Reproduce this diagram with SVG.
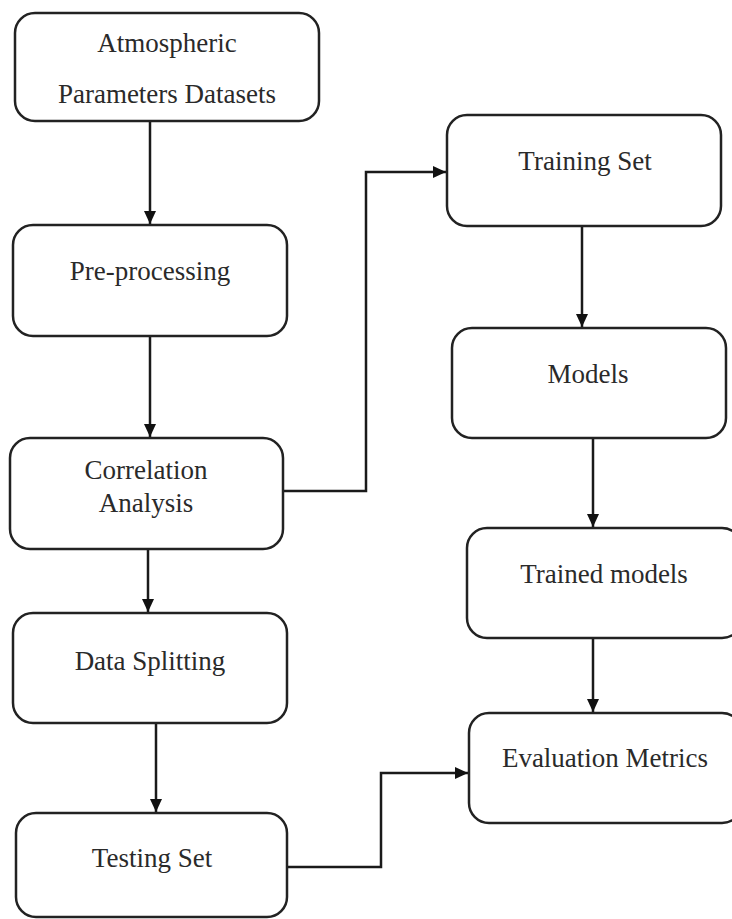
<svg xmlns="http://www.w3.org/2000/svg" width="732" height="919" viewBox="0 0 732 919">
<style>
.box{fill:#fff;stroke:#222;stroke-width:2.5}
.lbl{font-family:"Liberation Serif","Times New Roman",serif;font-size:27px;fill:#2a2a2a;text-anchor:middle}
.edge{fill:none;stroke:#1a1a1a;stroke-width:2.5}
</style>
<defs>
<marker id="ah" markerUnits="userSpaceOnUse" markerWidth="14" markerHeight="12" refX="13" refY="6" orient="auto">
<path d="M0,0 L13,6 L0,12 z" fill="#111"/>
</marker>
</defs>
<rect width="732" height="919" fill="#fff"/>
<g id="connectors">
<path class="edge" d="M150,121 V224" marker-end="url(#ah)"/>
<path class="edge" d="M150,336 V437" marker-end="url(#ah)"/>
<path class="edge" d="M148,549 V612" marker-end="url(#ah)"/>
<path class="edge" d="M156,723 V812" marker-end="url(#ah)"/>
<path class="edge" d="M283,491 H366 V172 H446" marker-end="url(#ah)"/>
<path class="edge" d="M582,226 V327" marker-end="url(#ah)"/>
<path class="edge" d="M593,438 V527" marker-end="url(#ah)"/>
<path class="edge" d="M593,638 V712" marker-end="url(#ah)"/>
<path class="edge" d="M287,867 H381 V773 H468" marker-end="url(#ah)"/>
</g>
<g id="n-atmospheric">
<rect class="box" x="15" y="13" width="304" height="108" rx="20"/>
<text class="lbl" x="167" y="52">Atmospheric</text>
<text class="lbl" x="167" y="103">Parameters Datasets</text>
</g>
<g id="n-preprocessing">
<rect class="box" x="13" y="225" width="274" height="111" rx="20"/>
<text class="lbl" x="150" y="280">Pre-processing</text>
</g>
<g id="n-correlation">
<rect class="box" x="10" y="438" width="273" height="111" rx="20"/>
<text class="lbl" x="146" y="479">Correlation</text>
<text class="lbl" x="146" y="512">Analysis</text>
</g>
<g id="n-datasplitting">
<rect class="box" x="13" y="613" width="274" height="110" rx="20"/>
<text class="lbl" x="150" y="670">Data Splitting</text>
</g>
<g id="n-testing">
<rect class="box" x="16" y="813" width="271" height="104" rx="20"/>
<text class="lbl" x="152" y="867">Testing Set</text>
</g>
<g id="n-training">
<rect class="box" x="447" y="115" width="274" height="111" rx="20"/>
<text class="lbl" x="585" y="170">Training Set</text>
</g>
<g id="n-models">
<rect class="box" x="452" y="328" width="274" height="110" rx="20"/>
<text class="lbl" x="588" y="383">Models</text>
</g>
<g id="n-trained">
<rect class="box" x="467" y="528" width="275" height="110" rx="20"/>
<text class="lbl" x="604" y="583">Trained models</text>
</g>
<g id="n-evaluation">
<rect class="box" x="469" y="713" width="273" height="110" rx="20"/>
<text class="lbl" x="605" y="767">Evaluation Metrics</text>
</g>
</svg>
